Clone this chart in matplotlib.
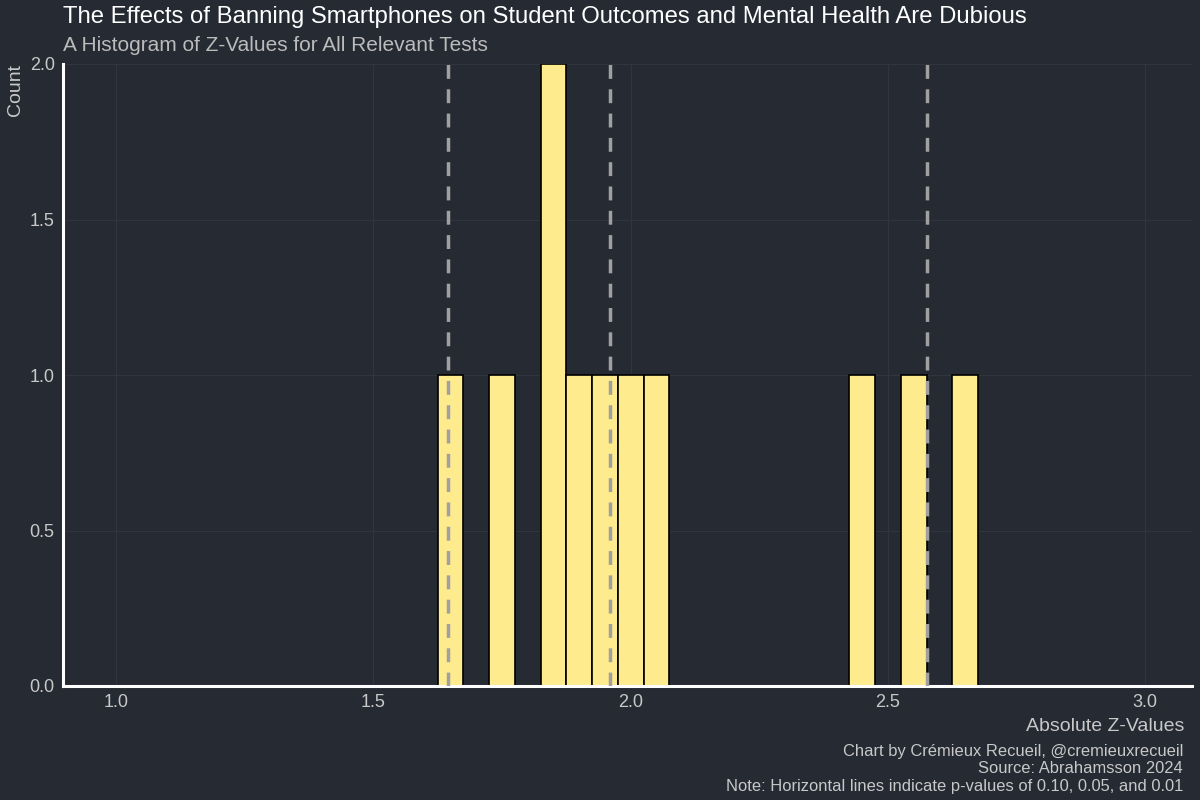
#!/usr/bin/env python
import numpy as np
import matplotlib.pyplot as plt

# %% data: absolute z-values (one value per test)
z_values = [1.65, 1.75, 1.84, 1.86, 1.90, 1.95, 2.00, 2.05, 2.45, 2.55, 2.65]
bin_edges = np.arange(1.625, 2.7, 0.05)
crit_z = [1.645, 1.96, 2.576]  # p = 0.10, 0.05, 0.01
x_ticks = [1.0, 1.5, 2.0, 2.5, 3.0]
y_ticks = [0.0, 0.5, 1.0, 1.5, 2.0]

bg = "#252a33"
txt = "#c8c8c8"

plt.rcParams['font.family'] = ['Liberation Sans', 'DejaVu Sans']

fig = plt.figure(figsize=(12, 8), dpi=100, facecolor=bg)
ax = fig.add_axes([0.0525, 0.1425, 0.9405, 0.7775], facecolor=bg)

ax.hist(z_values, bins=bin_edges, color="#fdeb8e", edgecolor="black",
        linewidth=1.2, zorder=2)
for z in crit_z:
    ax.axvline(z, color="#a0a0a0", linestyle=(0, (4, 3)), linewidth=2.5, zorder=3)

ax.set_xlim(0.897, 3.09)
ax.set_ylim(0, 2.0)
ax.set_xticks(x_ticks)
ax.set_yticks(y_ticks)
ax.set_xticklabels([f"{v:.1f}" for v in x_ticks])
ax.set_yticklabels([f"{v:.1f}" for v in y_ticks])
ax.tick_params(colors=txt, labelsize=13, length=0, pad=6)
ax.grid(True, color="#30353e", linewidth=0.8, zorder=0)
ax.set_axisbelow(True)

for side in ["top", "right"]:
    ax.spines[side].set_visible(False)
for side in ["left", "bottom"]:
    ax.spines[side].set_color("white")
    ax.spines[side].set_linewidth(2.2)

ax.set_ylabel("Count", color=txt, fontsize=14, loc="top", labelpad=4)
ax.set_xlabel("Absolute Z-Values", color=txt, fontsize=14, loc="right", labelpad=4)
ax.xaxis.set_label_coords(0.9935, -0.052)

fig.text(0.0525, 0.979, "The Effects of Banning Smartphones on Student Outcomes and Mental Health Are Dubious",
         color="white", fontsize=17.2, ha="left", va="center")
fig.text(0.0525, 0.943, "A Histogram of Z-Values for All Relevant Tests",
         color="#bbbbbb", fontsize=15, ha="left", va="center")

caption = ("Chart by Crémieux Recueil, @cremieuxrecueil\n"
           "Source: Abrahamsson 2024\n"
           "Note: Horizontal lines indicate p-values of 0.10, 0.05, and 0.01")
fig.text(0.986, 0.008, caption, color=txt, fontsize=11.9, ha="right", va="bottom",
         linespacing=1.18)

plt.savefig("out.png", dpi=100, facecolor=bg)
